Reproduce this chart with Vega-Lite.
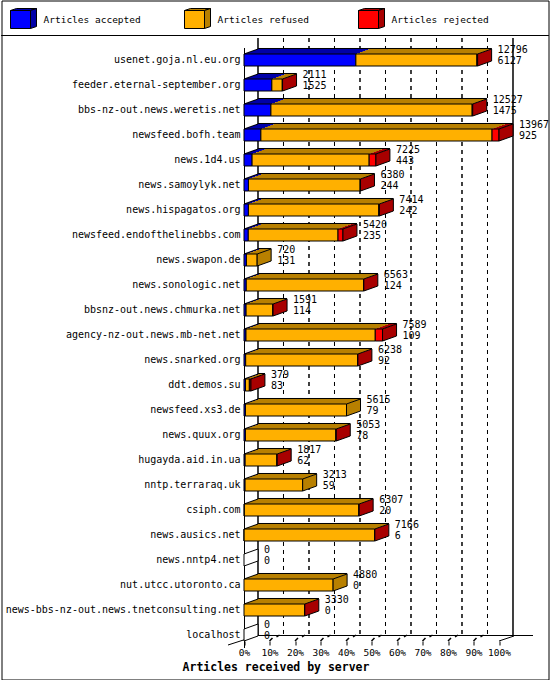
{
  "$schema": "https://vega.github.io/schema/vega-lite/v6.json",
  "width": 550,
  "height": 680,
  "autosize": {"type": "fit", "contains": "padding"},
  "padding": 0.5,
  "background": "white",
  "datasets": {
    "servers": [
      {"server": "usenet.goja.nl.eu.org", "accepted": 6127, "refused": 6629, "rejected": 40},
      {"server": "feeder.eternal-september.org", "accepted": 1525, "refused": 571, "rejected": 15},
      {"server": "bbs-nz-out.news.weretis.net", "accepted": 1475, "refused": 11022, "rejected": 30},
      {"server": "newsfeed.bofh.team", "accepted": 925, "refused": 12662, "rejected": 380},
      {"server": "news.1d4.us", "accepted": 443, "refused": 6412, "rejected": 370},
      {"server": "news.samoylyk.net", "accepted": 244, "refused": 6116, "rejected": 20},
      {"server": "news.hispagatos.org", "accepted": 242, "refused": 7142, "rejected": 30},
      {"server": "newsfeed.endofthelinebbs.com", "accepted": 235, "refused": 4915, "rejected": 270},
      {"server": "news.swapon.de", "accepted": 131, "refused": 589, "rejected": 0},
      {"server": "news.sonologic.net", "accepted": 124, "refused": 6429, "rejected": 10},
      {"server": "bbsnz-out.news.chmurka.net", "accepted": 114, "refused": 1467, "rejected": 10},
      {"server": "agency-nz-out.news.mb-net.net", "accepted": 109, "refused": 7080, "rejected": 400},
      {"server": "news.snarked.org", "accepted": 92, "refused": 6136, "rejected": 10},
      {"server": "ddt.demos.su", "accepted": 83, "refused": 210, "rejected": 86},
      {"server": "newsfeed.xs3.de", "accepted": 79, "refused": 5536, "rejected": 0},
      {"server": "news.quux.org", "accepted": 78, "refused": 4955, "rejected": 20},
      {"server": "hugayda.aid.in.ua", "accepted": 62, "refused": 1740, "rejected": 15},
      {"server": "nntp.terraraq.uk", "accepted": 59, "refused": 3154, "rejected": 0},
      {"server": "csiph.com", "accepted": 20, "refused": 6272, "rejected": 15},
      {"server": "news.ausics.net", "accepted": 6, "refused": 7145, "rejected": 15},
      {"server": "news.nntp4.net", "accepted": 0, "refused": 0, "rejected": 0},
      {"server": "nut.utcc.utoronto.ca", "accepted": 0, "refused": 4880, "rejected": 0},
      {"server": "news-bbs-nz-out.news.tnetconsulting.net", "accepted": 0, "refused": 3320, "rejected": 10},
      {"server": "localhost", "accepted": 0, "refused": 0, "rejected": 0}
    ],
    "grid": [
      {"pos": 0}, {"pos": 1396.7}, {"pos": 2793.4}, {"pos": 4190.1}, {"pos": 5586.8}, {"pos": 6983.5},
      {"pos": 8380.2}, {"pos": 9776.9}, {"pos": 11173.6}, {"pos": 12570.3}, {"pos": 13967}
    ],
    "legend": [
      {"key": "accepted", "label": "Articles accepted"},
      {"key": "refused", "label": "Articles refused"},
      {"key": "rejected", "label": "Articles rejected"}
    ]
  },
  "resolve": {"scale": {"x": "independent", "y": "independent"}},
  "layer": [
    {
      "data": {"name": "legend"},
      "encoding": {
        "x": {
          "field": "label", "type": "nominal",
          "scale": {"type": "point", "domain": ["Articles accepted", "Articles refused", "Articles rejected"], "range": [19, 367], "padding": 0},
          "axis": null
        },
        "y": {
          "field": "label", "type": "nominal",
          "scale": {"type": "point", "range": [19, 19], "padding": 0},
          "axis": null
        }
      },
      "layer": [
        {
          "mark": {"type": "rule", "color": "black", "strokeWidth": 1, "yOffset": 16},
          "encoding": {"x": null}
        },
        {
          "mark": {"type": "point", "shape": "M-10,-9 L10,-9 L16,-11 L-4,-11 Z", "size": 4, "filled": true, "stroke": "black", "strokeWidth": 1, "opacity": 1},
          "encoding": {
            "fill": {"field": "key", "type": "nominal", "legend": null,
              "scale": {"domain": ["accepted", "refused", "rejected", "none"], "range": ["#0000a8", "#b88000", "#a80000", "white"]}}
          }
        },
        {
          "mark": {"type": "point", "shape": "M10,-9 L16,-11 L16,7 L10,9 Z", "size": 4, "filled": true, "stroke": "black", "strokeWidth": 1, "opacity": 1},
          "encoding": {
            "fill": {"field": "key", "type": "nominal", "legend": null}
          }
        },
        {
          "mark": {"type": "point", "shape": "M-10,-9 L10,-9 L10,9 L-10,9 Z", "size": 4, "filled": true, "stroke": "black", "strokeWidth": 1, "opacity": 1},
          "encoding": {
            "color": {"field": "key", "type": "nominal", "legend": null,
              "scale": {"domain": ["accepted", "refused", "rejected"], "range": ["#0000ff", "#ffb000", "#ff0000"]}}
          }
        },
        {
          "mark": {"type": "text", "align": "left", "baseline": "middle", "dx": 23, "font": "DejaVu Sans Mono", "fontSize": 9.5, "color": "black"},
          "encoding": {"text": {"field": "label"}}
        }
      ]
    },
    {
      "layer": [
        {
          "data": {"name": "grid"},
          "transform": [{"filter": "datum.pos > 0 && datum.pos < 13967"}],
          "mark": {"type": "tick", "orient": "vertical", "thickness": 0.001, "size": 598, "fill": null, "stroke": "black", "strokeWidth": 1, "strokeDash": [4, 4], "opacity": 1, "xOffset": 14, "yOffset": -3},
          "encoding": {
            "x": {
              "field": "pos", "type": "quantitative",
              "scale": {"domain": [0, 13967], "range": [242.5, 497.5], "nice": false, "zero": true},
              "axis": {
                "orient": "bottom", "offset": -44.5,
                "values": [0, 1396.7, 2793.4, 4190.1, 5586.8, 6983.5, 8380.2, 9776.9, 11173.6, 12570.3, 13967],
                "labelExpr": "round(datum.value / 139.67) + '%'", "domain": true, "domainColor": "black", "grid": false,
                "ticks": true, "tickSize": 10, "tickDash": [0, 6, 4, 10], "tickColor": "black", "labelPadding": 2,
                "labelFont": "DejaVu Sans Mono", "labelFontSize": 9.5, "labelColor": "black",
                "labelFlush": false, "labelOverlap": false,
                "title": "Articles received by server", "titleFont": "DejaVu Sans Mono", "titleFontSize": 11.5,
                "titleFontWeight": "bold", "titleColor": "black", "titleX": 274, "titleY": 32,
                "titleAlign": "center", "titleBaseline": "middle"
              }
            }
          }
        },
        {
          "data": {"name": "grid"},
          "transform": [{"filter": "datum.pos == 0 || datum.pos == 13967"}],
          "mark": {"type": "tick", "orient": "vertical", "thickness": 0.001, "size": 598, "fill": null, "stroke": "black", "strokeWidth": 1, "opacity": 1, "xOffset": 14, "yOffset": -3},
          "encoding": {
            "x": {"field": "pos", "type": "quantitative"}
          }
        },
        {
          "data": {"name": "grid"},
          "transform": [{"filter": "datum.pos > 0 && datum.pos < 13967"}],
          "mark": {"type": "point", "shape": "M0,0 L3,-3 M7,-4 L10,-6", "size": 4, "filled": false, "color": "black", "strokeWidth": 1.5, "opacity": 1, "yOffset": 301},
          "encoding": {
            "x": {"field": "pos", "type": "quantitative"}
          }
        },
        {
          "data": {"name": "grid"},
          "transform": [{"filter": "datum.pos == 13967"}],
          "mark": {"type": "point", "shape": "M0,0 L15,-5 M0,-5.5 L34,-5.5", "size": 4, "filled": false, "color": "black", "strokeWidth": 1, "opacity": 1, "yOffset": 301},
          "encoding": {
            "x": {"field": "pos", "type": "quantitative"}
          }
        },
        {
          "data": {"name": "grid"},
          "transform": [{"filter": "datum.pos == 0"}],
          "mark": {"type": "point", "shape": "M-16,4 L15,-6", "size": 4, "filled": false, "color": "black", "strokeWidth": 1, "opacity": 1, "yOffset": 301},
          "encoding": {
            "x": {"field": "pos", "type": "quantitative"}
          }
        },
        {
          "data": {"name": "servers"},
          "transform": [
            {"calculate": "datum.accepted + datum.refused + datum.rejected", "as": "total"},
            {"calculate": "datum.rejected > 0 ? 'rejected' : datum.refused > 0 ? 'refused' : datum.accepted > 0 ? 'accepted' : 'none'", "as": "last"}
          ],
          "layer": [
            {
              "transform": [{"fold": ["accepted", "refused", "rejected"], "as": ["status", "count"]}, {"filter": "datum.count > 0"}],
              "mark": {"type": "bar", "height": 1, "xOffset": 1.4, "yOffset": -6.5},
              "encoding": {
                "x": {"field": "count", "type": "quantitative", "stack": "zero"},
                "y": {"field": "server", "type": "nominal"},
                "fill": {"field": "status", "type": "nominal", "legend": null},
                "order": {"field": "status", "type": "ordinal"}
              }
            },
            {
              "transform": [{"fold": ["accepted", "refused", "rejected"], "as": ["status", "count"]}, {"filter": "datum.count > 0"}],
              "mark": {"type": "bar", "height": 1, "xOffset": 4.2, "yOffset": -7.5},
              "encoding": {
                "x": {"field": "count", "type": "quantitative", "stack": "zero"},
                "y": {"field": "server", "type": "nominal"},
                "fill": {"field": "status", "type": "nominal", "legend": null},
                "order": {"field": "status", "type": "ordinal"}
              }
            },
            {
              "transform": [{"fold": ["accepted", "refused", "rejected"], "as": ["status", "count"]}, {"filter": "datum.count > 0"}],
              "mark": {"type": "bar", "height": 1, "xOffset": 7, "yOffset": -8.5},
              "encoding": {
                "x": {"field": "count", "type": "quantitative", "stack": "zero"},
                "y": {"field": "server", "type": "nominal"},
                "fill": {"field": "status", "type": "nominal", "legend": null},
                "order": {"field": "status", "type": "ordinal"}
              }
            },
            {
              "transform": [{"fold": ["accepted", "refused", "rejected"], "as": ["status", "count"]}, {"filter": "datum.count > 0"}],
              "mark": {"type": "bar", "height": 1, "xOffset": 9.8, "yOffset": -9.5},
              "encoding": {
                "x": {"field": "count", "type": "quantitative", "stack": "zero"},
                "y": {"field": "server", "type": "nominal"},
                "fill": {"field": "status", "type": "nominal", "legend": null},
                "order": {"field": "status", "type": "ordinal"}
              }
            },
            {
              "transform": [{"fold": ["accepted", "refused", "rejected"], "as": ["status", "count"]}, {"filter": "datum.count > 0"}],
              "mark": {"type": "bar", "height": 1, "xOffset": 12.6, "yOffset": -10.5},
              "encoding": {
                "x": {"field": "count", "type": "quantitative", "stack": "zero"},
                "y": {"field": "server", "type": "nominal"},
                "fill": {"field": "status", "type": "nominal", "legend": null},
                "order": {"field": "status", "type": "ordinal"}
              }
            },
            {
              "transform": [{"fold": ["accepted", "refused", "rejected"], "as": ["status", "count"]}, {"filter": "datum.count > 0"}],
              "mark": {"type": "bar", "height": 12, "stroke": "black", "strokeWidth": 1},
              "encoding": {
                "x": {"field": "count", "type": "quantitative", "stack": "zero"},
                "y": {
                  "field": "server", "type": "nominal",
                  "scale": {
                    "domain": ["usenet.goja.nl.eu.org", "feeder.eternal-september.org", "bbs-nz-out.news.weretis.net", "newsfeed.bofh.team", "news.1d4.us", "news.samoylyk.net", "news.hispagatos.org", "newsfeed.endofthelinebbs.com", "news.swapon.de", "news.sonologic.net", "bbsnz-out.news.chmurka.net", "agency-nz-out.news.mb-net.net", "news.snarked.org", "ddt.demos.su", "newsfeed.xs3.de", "news.quux.org", "hugayda.aid.in.ua", "nntp.terraraq.uk", "csiph.com", "news.ausics.net", "news.nntp4.net", "nut.utcc.utoronto.ca", "news-bbs-nz-out.news.tnetconsulting.net", "localhost"],
                    "range": [47, 647], "paddingInner": 0, "paddingOuter": 0
                  },
                  "axis": {
                    "orient": "left", "offset": -242.5, "title": null, "domain": true, "domainColor": "black",
                    "ticks": false, "labelPadding": 4, "labelLimit": 300,
                    "labelFont": "DejaVu Sans Mono", "labelFontSize": 10, "labelColor": "black", "grid": false
                  }
                },
                "color": {"field": "status", "type": "nominal", "legend": null},
                "order": {"field": "status", "type": "ordinal"}
              }
            },
            {
              "transform": [{"filter": "datum.total > 0"}],
              "mark": {"type": "bar", "height": 0.01, "fill": null, "stroke": "black", "strokeWidth": 1, "xOffset": 14, "yOffset": -11.5},
              "encoding": {
                "x": {"field": "total", "type": "quantitative"},
                "y": {"field": "server", "type": "nominal"}
              }
            },
            {
              "transform": [{"filter": "datum.total > 0"}],
              "mark": {"type": "point", "shape": "M0,-6 L14,-11", "size": 4, "filled": false, "color": "black", "strokeWidth": 1, "opacity": 1},
              "encoding": {
                "x": {"datum": 0, "type": "quantitative"},
                "y": {"field": "server", "type": "nominal"}
              }
            },
            {
              "mark": {"type": "point", "shape": "M0,-6 L14,-11 L14,1 L0,6 Z", "size": 4, "filled": true, "stroke": "black", "strokeWidth": 1, "opacity": 1},
              "encoding": {
                "x": {"field": "total", "type": "quantitative"},
                "y": {"field": "server", "type": "nominal"},
                "fill": {"field": "last", "type": "nominal", "legend": null}
              }
            },
            {
              "mark": {"type": "text", "align": "left", "baseline": "middle", "dx": 20, "yOffset": -10, "font": "DejaVu Sans Mono", "fontSize": 10, "color": "black"},
              "encoding": {
                "x": {"field": "total", "type": "quantitative"},
                "y": {"field": "server", "type": "nominal"},
                "text": {"field": "total", "type": "quantitative", "format": "d"}
              }
            },
            {
              "mark": {"type": "text", "align": "left", "baseline": "middle", "dx": 20, "yOffset": 1, "font": "DejaVu Sans Mono", "fontSize": 10, "color": "black"},
              "encoding": {
                "x": {"field": "total", "type": "quantitative"},
                "y": {"field": "server", "type": "nominal"},
                "text": {"field": "accepted", "type": "quantitative", "format": "d"}
              }
            }
          ]
        }
      ]
    }
  ],
  "config": {
    "view": {"stroke": "black", "strokeWidth": 1}
  }
}
